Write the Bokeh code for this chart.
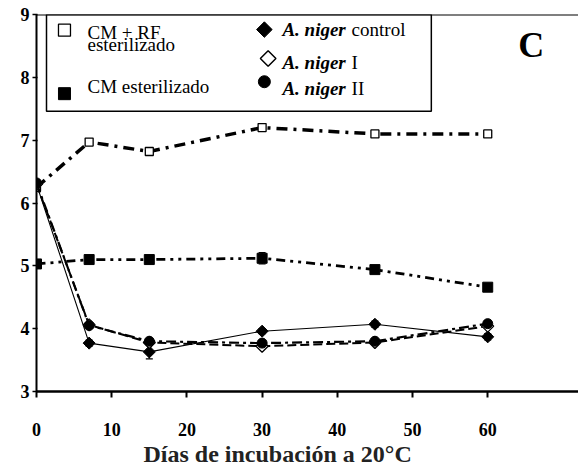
from bokeh.plotting import figure
from bokeh.models import (ColumnDataSource, Range1d, Span, Label, BoxAnnotation,
                          Whisker, TeeHead, FixedTicker, Title)
from bokeh.embed import file_html
from bokeh.resources import INLINE
import math

# ---------------- data ----------------
days = [0, 7, 15, 30, 45, 60]
cm_rf = [6.25, 6.97, 6.82, 7.20, 7.10, 7.10]
cm = [5.03, 5.10, 5.10, 5.12, 4.94, 4.66]
control = [6.30, 3.77, 3.63, 3.96, 4.07, 3.87]
niger_i = [6.30, 4.06, 3.78, 3.72, 3.78, 4.04]
niger_ii = [6.32, 4.05, 3.80, 3.77, 3.80, 4.08]
control_err = [0.0, 0.05, 0.11, 0.04, 0.05, 0.05]
cm_err = [0.0, 0.0, 0.03, 0.09, 0.04, 0.0]
x_ticks = [0, 10, 20, 30, 40, 50, 60]
y_ticks = [3, 4, 5, 6, 7, 8, 9]
x_title = "Días de incubación a 20°C"
panel = "C"
leg_left = ["CM + RF", "esterilizado", "CM esterilizado"]
leg_right_it = "A. niger"
leg_right_rest = ["control", "I", "II"]

FONT = "'Liberation Serif', 'Times New Roman', serif"
ROT = math.pi / 4

p = figure(width=578, height=471, output_backend="svg", toolbar_location=None,
           x_range=Range1d(0, 72.07), y_range=Range1d(3, 9),
           min_border_left=36, min_border_right=0, min_border_top=14,
           min_border_bottom=80)
p.outline_line_color = None
p.grid.visible = False
p.background_fill_color = "white"

# axes
for ax in (p.xaxis[0], p.yaxis[0]):
    ax.axis_line_color = "black"
    ax.major_tick_line_color = "black"
    ax.minor_tick_line_color = None
    ax.major_label_text_font = FONT
    ax.major_label_text_font_style = "bold"
    ax.major_label_text_color = "black"
    ax.major_label_text_font_size = "18px"

p.xaxis.ticker = FixedTicker(ticks=x_ticks)
p.yaxis.ticker = FixedTicker(ticks=y_ticks)
p.xaxis.axis_line_width = 2.5
p.yaxis.axis_line_width = 2
p.xaxis.major_tick_line_width = 2
p.yaxis.major_tick_line_width = 1.5
p.xaxis.major_tick_out = 6
p.xaxis.major_tick_in = 0
p.yaxis.major_tick_out = 4
p.yaxis.major_tick_in = 1
p.xaxis.major_label_standoff = 25
p.yaxis.major_label_standoff = 3

# x-axis title, offset to the left as in the reference
p.add_layout(Title(text=x_title, align="left", offset=107, standoff=0,
                   text_font=FONT, text_font_style="bold", text_font_size="24px",
                   text_color="#222222"), "below")

# top frame line
p.add_layout(Span(location=9, dimension="width", line_color="black", line_width=2))

src = ColumnDataSource(dict(
    x=days, cm_rf=cm_rf, cm=cm, control=control, niger_i=niger_i, niger_ii=niger_ii,
    c_lo=[a - b for a, b in zip(control, control_err)],
    c_hi=[a + b for a, b in zip(control, control_err)],
    m_lo=[a - b for a, b in zip(cm, cm_err)],
    m_hi=[a + b for a, b in zip(cm, cm_err)],
))

# ---------------- legend box (below glyphs) ----------------
p.add_layout(BoxAnnotation(left=1.33, right=52.5, bottom=7.46, top=9.0,
                           fill_color="white", fill_alpha=1.0,
                           line_color="black", line_alpha=1.0, line_width=1.5,
                           level="underlay"))

# error bars
for lo, hi in (("c_lo", "c_hi"), ("m_lo", "m_hi")):
    p.add_layout(Whisker(source=src, base="x", lower=lo, upper=hi, line_color="black",
                         line_width=1.2,
                         lower_head=TeeHead(size=7, line_color="black", line_width=1.2),
                         upper_head=TeeHead(size=7, line_color="black", line_width=1.2)))

# CM + RF esterilizado
p.line("x", "cm_rf", source=src, line_color="black", line_width=3.5, line_dash="11 6 3 6")
p.scatter("x", "cm_rf", source=src, marker="square", size=8, fill_color="white",
          line_color="black", line_width=1.3)
# CM esterilizado
p.line("x", "cm", source=src, line_color="black", line_width=2.8, line_dash="9 5 3 5 3 5")
p.scatter("x", "cm", source=src, marker="square", size=10, fill_color="black",
          line_color="black")
# A. niger control
p.line("x", "control", source=src, line_color="black", line_width=1.1)
p.scatter("x", "control", source=src, marker="square", angle=ROT, size=8.5,
          fill_color="black", line_color="black")
# A. niger I
p.line("x", "niger_i", source=src, line_color="black", line_width=2, line_dash="9 4")
p.scatter("x", "niger_i", source=src, marker="square", angle=ROT, size=8.5,
          fill_color="white", line_color="black", line_width=1.3)
# A. niger II
p.line("x", "niger_ii", source=src, line_color="black", line_width=2.2, line_dash="10 4 3 4")
p.scatter("x", "niger_ii", source=src, marker="circle", size=10, fill_color="black",
          line_color="black")

# ---------------- legend symbols and texts ----------------
p.scatter([3.72], [8.75], marker="square", size=12, fill_color="white",
          line_color="black", line_width=1.3)
p.scatter([3.72], [7.74], marker="square", size=12, fill_color="black", line_color="black")
p.scatter([30.3], [8.76], marker="square", angle=ROT, size=11, fill_color="black",
          line_color="black")
p.scatter([30.8], [8.30], marker="square", angle=ROT, size=11, fill_color="white",
          line_color="black", line_width=1.5)
p.scatter([30.3], [7.93], marker="circle", size=12, fill_color="black", line_color="black")

def lab(x, y, t, style="normal", size="18px", align="left", color="black"):
    p.add_layout(Label(x=x, y=y, text=t, text_font=FONT, text_font_style=style,
                       text_font_size=size, text_color=color, text_align=align,
                       text_baseline="middle"))

lab(6.78, 8.72, leg_left[0], size="19px")
lab(6.78, 8.53, leg_left[1], size="19px")
lab(6.78, 7.85, leg_left[2], size="19px")
for yy, rest in zip([8.76, 8.24, 7.82], leg_right_rest):
    lab(32.7, yy, leg_right_it, style="bold italic", size="19px")
    lab(41.9, yy, rest, size="19px")

# panel letter
lab(65.8, 8.51, panel, style="bold", size="36px", align="center")

open("out.html", "w").write(file_html(p, INLINE))
